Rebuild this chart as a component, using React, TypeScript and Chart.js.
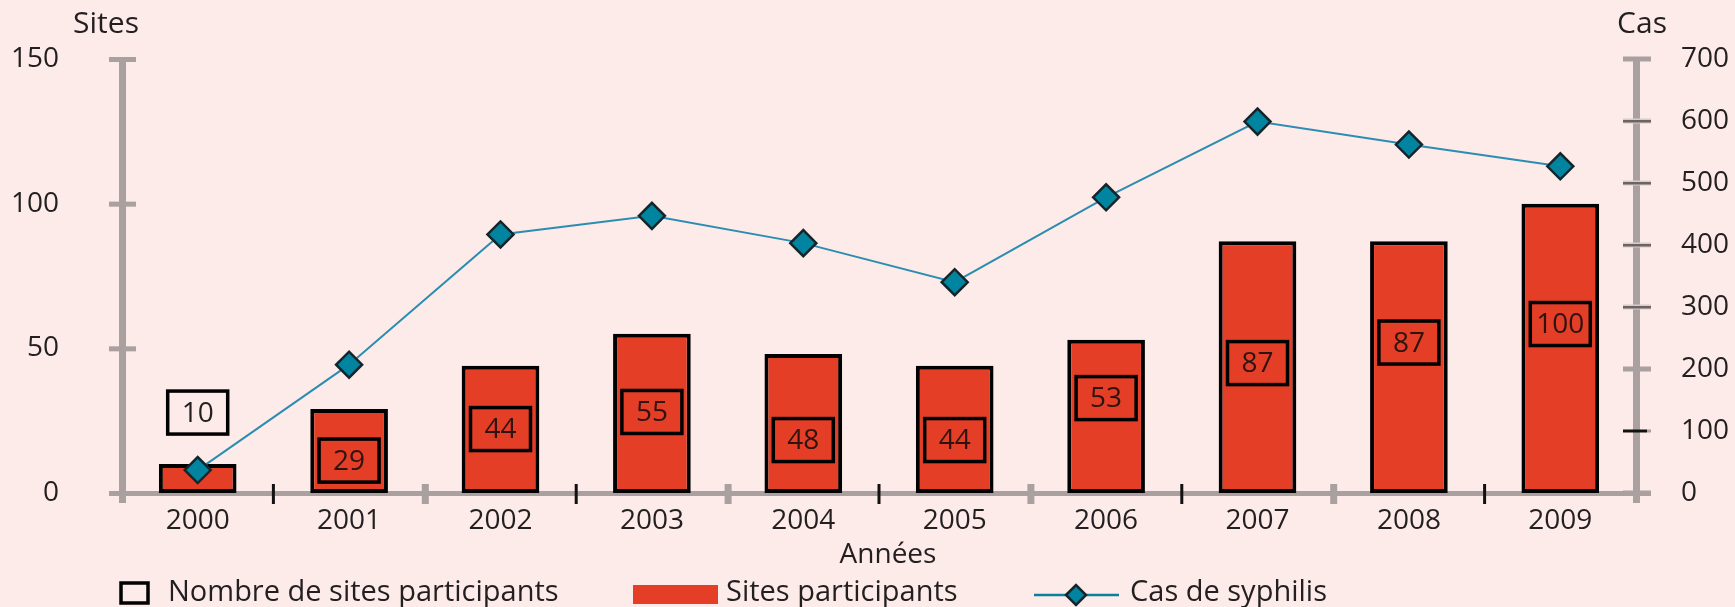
import React, { useEffect, useRef } from "react";
import { Chart, registerables } from "chart.js";

Chart.register(...registerables);

// ---- data ----
const years = ["2000", "2001", "2002", "2003", "2004", "2005", "2006", "2007", "2008", "2009"];
const sitesParticipants = [10, 29, 44, 55, 48, 44, 53, 87, 87, 100];
const casSyphilis = [37, 207, 417, 447, 403, 340, 477, 599, 562, 527];
// level (in "Sites" units) at which each value box is centred
const labelLevels = [27.8, 11.2, 22.1, 28.0, 18.3, 18.3, 32.8, 44.9, 52.0, 58.4];
const leftAxisTitle = "Sites";
const rightAxisTitle = "Cas";
const xAxisTitle = "Années";
const legendLabels = ["Nombre de sites participants", "Sites participants", "Cas de syphilis"];

// ---- styles ----
const FONT = '"Open Sans", sans-serif';
const BG = "#fdebe9";
const AXIS = "#a9a09f";
const TEXT = "#231f20";
const RED = "#e53e27";
const TEAL_LINE = "#2c8db2";
const TEAL_FILL = "#00849f";
const DIAMOND_BORDER = "#14262b";

function diamond(ctx: CanvasRenderingContext2D, x: number, y: number, r: number) {
  ctx.beginPath();
  ctx.moveTo(x - r, y);
  ctx.lineTo(x, y - r);
  ctx.lineTo(x + r, y);
  ctx.lineTo(x, y + r);
  ctx.closePath();
  ctx.fillStyle = TEAL_FILL;
  ctx.fill();
  ctx.lineWidth = 2.5;
  ctx.strokeStyle = DIAMOND_BORDER;
  ctx.stroke();
}

const decorPlugin = {
  id: "decor",
  beforeDraw(chart: any) {
    const { ctx, width, height } = chart;
    ctx.save();
    ctx.fillStyle = BG;
    ctx.fillRect(0, 0, width, height);
    ctx.restore();
  },
  beforeDatasetsDraw(chart: any) {
    const { ctx, chartArea: ca, scales } = chart;
    const x = scales.x;
    const y = scales.y;
    const y1 = scales.y1;
    ctx.save();
    ctx.fillStyle = AXIS;
    // x axis line
    ctx.fillRect(ca.left - 13, ca.bottom - 2, ca.right - ca.left + 28, 5);
    // vertical axes
    ctx.fillRect(ca.left - 3, ca.top, 7, ca.bottom - ca.top + 10);
    ctx.fillRect(ca.right - 3, ca.top, 7, ca.bottom - ca.top + 10);
    // left ticks
    y.ticks.forEach((_t: any, i: number) => {
      const py = y.getPixelForTick(i);
      ctx.fillStyle = AXIS;
      ctx.fillRect(ca.left - 13, py - 2, 27, 5);
    });
    // right ticks
    y1.ticks.forEach((t: any, i: number) => {
      const py = y1.getPixelForTick(i);
      const v = t.value;
      if (v === 100) {
        ctx.fillStyle = "#111";
        ctx.fillRect(ca.right - 13, py - 1.5, 24, 3);
        ctx.fillStyle = AXIS;
        ctx.fillRect(ca.right + 11, py - 1.5, 4, 3);
      } else if (v >= 300 && v <= 600) {
        ctx.fillStyle = "#d8cccb";
        ctx.fillRect(ca.right - 13, py - 2.5, 28, 5);
        ctx.fillStyle = "#6d6363";
        ctx.fillRect(ca.right - 13, py - 1, 28, 2.5);
      } else {
        ctx.fillStyle = AXIS;
        ctx.fillRect(ca.right - 13, py - 2.5, 28, 5);
      }
    });
    // x ticks between categories
    for (let i = 1; i < years.length; i++) {
      const px = (x.getPixelForValue(i - 1) + x.getPixelForValue(i)) / 2;
      if (i % 2 === 1) {
        ctx.fillStyle = "#111";
        ctx.fillRect(px - 1.5, ca.bottom - 9, 3, 20);
      } else {
        ctx.fillStyle = AXIS;
        ctx.fillRect(px - 3, ca.bottom - 9, 7, 20);
      }
    }
    ctx.restore();
  },
  afterDatasetsDraw(chart: any) {
    const { ctx, scales } = chart;
    const x = scales.x;
    const y = scales.y;
    ctx.save();
    ctx.font = `28px ${FONT}`;
    ctx.textAlign = "center";
    ctx.textBaseline = "middle";
    sitesParticipants.forEach((v, i) => {
      const cx = x.getPixelForValue(i);
      const cy = y.getPixelForValue(labelLevels[i]);
      const w = 60;
      const h = 43;
      ctx.lineWidth = 3.5;
      ctx.strokeStyle = "#000";
      ctx.strokeRect(cx - w / 2, cy - h / 2, w, h);
      ctx.fillStyle = i === 0 ? TEXT : "#2e1410";
      ctx.fillText(String(v), cx, cy + 1);
    });
    ctx.restore();
  },
  afterDraw(chart: any) {
    const { ctx, chartArea: ca } = chart;
    ctx.save();
    ctx.fillStyle = TEXT;
    ctx.textBaseline = "middle";
    // axis titles
    ctx.font = `30px ${FONT}`;
    ctx.textAlign = "center";
    ctx.fillText(leftAxisTitle, 106, 24);
    ctx.fillText(rightAxisTitle, ca.right + 6, 24);
    ctx.font = `28px ${FONT}`;
    ctx.fillText(xAxisTitle, 888, 555);
    // legend
    const ly = 593;
    ctx.textAlign = "left";
    ctx.font = `29px ${FONT}`;
    // item 1: empty box
    ctx.lineWidth = 3.5;
    ctx.strokeStyle = "#000";
    ctx.strokeRect(121, 583, 27, 20);
    ctx.fillStyle = TEXT;
    ctx.fillText(legendLabels[0], 168, ly);
    // item 2: red swatch
    ctx.fillStyle = RED;
    ctx.fillRect(633, 585, 85, 19);
    ctx.fillStyle = TEXT;
    ctx.fillText(legendLabels[1], 726, ly);
    // item 3: line + diamond
    ctx.strokeStyle = "#0b7fa0";
    ctx.lineWidth = 2.5;
    ctx.beginPath();
    ctx.moveTo(1034, 595);
    ctx.lineTo(1119, 595);
    ctx.stroke();
    diamond(ctx, 1076, 595, 10);
    ctx.fillStyle = TEXT;
    ctx.fillText(legendLabels[2], 1130, ly);
    ctx.restore();
  },
};

export default function App() {
  const canvasRef = useRef<HTMLCanvasElement | null>(null);

  useEffect(() => {
    const canvas = canvasRef.current;
    if (!canvas) return;
    const tickFont = { family: FONT, size: 28 };
    const chart = new Chart(canvas, {
      type: "bar",
      data: {
        labels: years,
        datasets: [
          {
            type: "line",
            label: legendLabels[2],
            data: casSyphilis,
            yAxisID: "y1",
            order: 0,
            borderColor: TEAL_LINE,
            borderWidth: 2,
            pointStyle: "rectRot",
            pointRadius: 13,
            pointBackgroundColor: TEAL_FILL,
            pointBorderColor: DIAMOND_BORDER,
            pointBorderWidth: 2.5,
            tension: 0,
          } as any,
          {
            type: "bar",
            label: legendLabels[1],
            data: sitesParticipants,
            yAxisID: "y",
            order: 1,
            backgroundColor: RED,
            borderColor: "#000",
            borderWidth: 4,
            borderSkipped: false,
            barPercentage: 1,
            categoryPercentage: 0.513,
          } as any,
        ],
      },
      options: {
        responsive: false,
        animation: false,
        devicePixelRatio: 1,
        layout: { padding: { top: 59, left: 0, right: 0, bottom: 0 } },
        plugins: {
          legend: { display: false },
          title: { display: false },
          tooltip: { enabled: false },
        },
        scales: {
          x: {
            grid: { display: false },
            border: { display: false },
            ticks: { font: tickFont, color: TEXT, padding: 3, maxRotation: 0 },
            afterFit(scale: any) {
              scale.height = 114;
              scale.paddingLeft = 0;
              scale.paddingRight = 0;
            },
          },
          y: {
            position: "left",
            min: 0,
            max: 150,
            grid: { display: false },
            border: { display: false },
            ticks: { stepSize: 50, font: tickFont, color: TEXT, padding: 55 },
            afterFit(scale: any) {
              scale.width = 122;
              scale.paddingTop = 0;
              scale.paddingBottom = 0;
            },
          },
          y1: {
            position: "right",
            min: 0,
            max: 700,
            grid: { display: false },
            border: { display: false },
            ticks: { stepSize: 100, font: tickFont, color: TEXT, padding: 37 },
            afterFit(scale: any) {
              scale.width = 99;
              scale.paddingTop = 0;
              scale.paddingBottom = 0;
            },
          },
        },
      } as any,
      plugins: [decorPlugin],
    });
    let alive = true;
    if ((document as any).fonts && (document as any).fonts.load) {
      (document as any).fonts.load(`28px "Open Sans"`).then(() => {
        if (alive) chart.update();
      });
    }
    return () => {
      alive = false;
      chart.destroy();
    };
  }, []);

  return (
    <div
      style={{
        position: "fixed",
        left: 0,
        top: 0,
        width: 1735,
        height: 607,
        background: BG,
      }}
    >
      <canvas ref={canvasRef} width={1735} height={607} style={{ display: "block", width: 1735, height: 607 }} />
    </div>
  );
}
